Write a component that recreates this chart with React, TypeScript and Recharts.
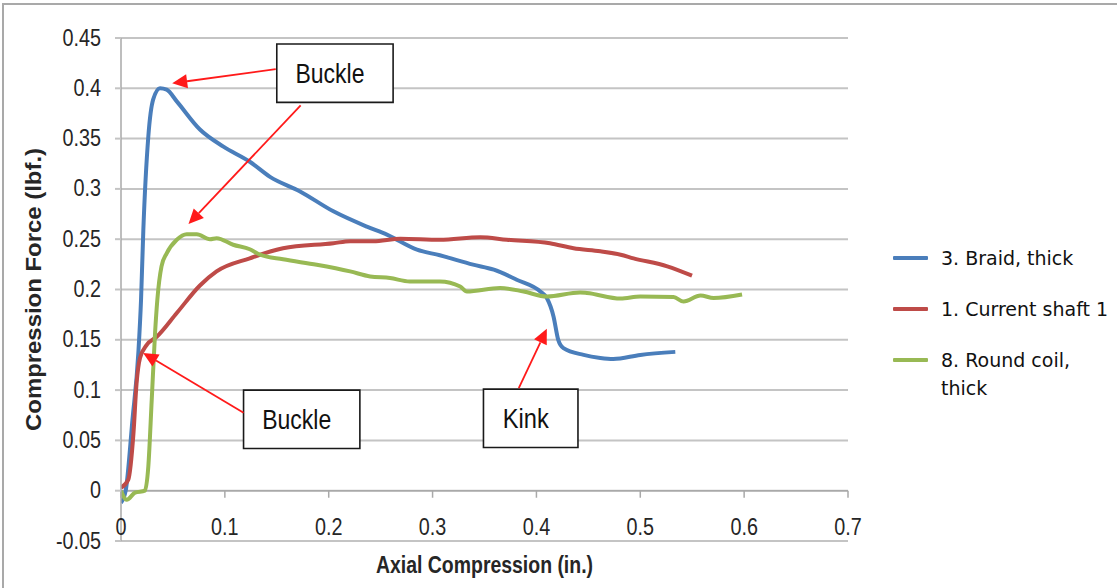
import React from 'react';
import { LineChart, Line, XAxis, YAxis, CartesianGrid, ReferenceLine, ReferenceArea } from 'recharts';

// ---------- axes ----------
const xTicks = [0, 0.1, 0.2, 0.3, 0.4, 0.5, 0.6, 0.7];
const yTicks = [-0.05, 0, 0.05, 0.1, 0.15, 0.2, 0.25, 0.3, 0.35, 0.4, 0.45];

// ---------- series: 3. Braid, thick ----------
const braidX = [0, 0.0045, 0.011, 0.0167, 0.0193, 0.0215, 0.0263, 0.031, 0.0376, 0.044, 0.0537, 0.076, 0.0986, 0.124, 0.1435, 0.1724, 0.2045, 0.2367, 0.256, 0.285, 0.307, 0.339, 0.359, 0.381, 0.4037, 0.41, 0.4165, 0.421, 0.426, 0.4454, 0.4615, 0.474, 0.5, 0.5337];
const braidY = [-0.012, 0, 0.07, 0.137, 0.19, 0.259, 0.352, 0.389, 0.4, 0.3986, 0.387, 0.359, 0.342, 0.327, 0.312, 0.2975, 0.2777, 0.2625, 0.2545, 0.2396, 0.234, 0.2247, 0.2197, 0.2097, 0.198, 0.1915, 0.173, 0.15, 0.1418, 0.135, 0.132, 0.131, 0.135, 0.138];

// ---------- series: 1. Current shaft 1 ----------
const shaftX = [0, 0.007, 0.012, 0.015, 0.0183, 0.0248, 0.0344, 0.0537, 0.076, 0.092, 0.124, 0.156, 0.2045, 0.2206, 0.243, 0.269, 0.307, 0.346, 0.3716, 0.413, 0.4357, 0.4615, 0.481, 0.4935, 0.526, 0.5498];
const shaftY = [0.003, 0.011, 0.057, 0.107, 0.132, 0.145, 0.153, 0.1766, 0.204, 0.218, 0.231, 0.241, 0.246, 0.248, 0.248, 0.2505, 0.2495, 0.252, 0.2495, 0.246, 0.241, 0.238, 0.2346, 0.231, 0.223, 0.2137];

// ---------- series: 8. Round coil, thick ----------
const coilX = [0, 0.0055, 0.0135, 0.023, 0.0263, 0.0296, 0.0328, 0.035, 0.039, 0.044, 0.0537, 0.0633, 0.073, 0.0857, 0.092, 0.108, 0.124, 0.134, 0.156, 0.1885, 0.2206, 0.2399, 0.259, 0.278, 0.307, 0.3266, 0.333, 0.365, 0.3876, 0.41, 0.442, 0.4486, 0.481, 0.5, 0.532, 0.5417, 0.558, 0.5706, 0.598];
const coilY = [0, -0.009, -0.002, 0, 0.024, 0.0905, 0.157, 0.19, 0.223, 0.236, 0.2495, 0.255, 0.255, 0.25, 0.251, 0.2445, 0.24, 0.2346, 0.23, 0.2246, 0.218, 0.213, 0.2114, 0.208, 0.208, 0.203, 0.198, 0.2015, 0.198, 0.193, 0.197, 0.1965, 0.191, 0.193, 0.1925, 0.188, 0.194, 0.1915, 0.195];

const seriesNames = ['3. Braid, thick', '1. Current shaft 1', '8. Round coil, thick'];
const seriesColors = ['#4a7ebb', '#be4b48', '#98b954'];

// ---------- annotations (data coordinates) ----------
const boxes = [
  { label: 'Buckle', x1: 0.150, x2: 0.262, y1: 0.386, y2: 0.444, textWidth: 69 },
  { label: 'Buckle', x1: 0.118, x2: 0.230, y1: 0.042, y2: 0.100, textWidth: 69 },
  { label: 'Kink', x1: 0.349, x2: 0.440, y1: 0.043, y2: 0.101, textWidth: 46 },
];
const arrows = [
  { fx: 0.149, fy: 0.419, tx: 0.0493, ty: 0.405 },
  { fx: 0.173, fy: 0.383, tx: 0.065, ty: 0.265 },
  { fx: 0.118, fy: 0.0775, tx: 0.0213, ty: 0.137 },
  { fx: 0.383, fy: 0.102, tx: 0.410, ty: 0.161 },
];

const toData = (xs: number[], ys: number[]) => xs.map((x, i) => ({ x, y: ys[i] }));
const seriesData = [toData(braidX, braidY), toData(shaftX, shaftY), toData(coilX, coilY)];

const NARROW = '"Liberation Sans Narrow", "Arial Narrow", "Liberation Sans", Arial, sans-serif';
const SANS = '"Liberation Sans", Arial, sans-serif';

const Arrow = (p: any) => {
  const { x1, y1, x2, y2 } = p;
  const dx = x2 - x1;
  const dy = y2 - y1;
  const len = Math.hypot(dx, dy) || 1;
  const ux = dx / len;
  const uy = dy / len;
  const hl = 15;
  const hw = 7;
  const bx = x2 - ux * hl;
  const by = y2 - uy * hl;
  return (
    <g>
      <line x1={x1} y1={y1} x2={bx} y2={by} stroke="#ff1a1a" strokeWidth={1.8} />
      <polygon
        points={`${x2},${y2} ${bx - uy * hw},${by + ux * hw} ${bx + uy * hw},${by - ux * hw}`}
        fill="#ff1a1a"
      />
    </g>
  );
};

const XTick = (p: any) => {
  const { x, y, payload } = p;
  return (
    <g transform={`translate(${x},${y - 6}) scale(0.86,1)`}>
      <text x={0} y={0} textAnchor="middle" fontFamily={SANS} fontSize={23} fill="#262626">
        {String(payload.value)}
      </text>
    </g>
  );
};

const YTick = (p: any) => {
  const { x, y, payload } = p;
  return (
    <g transform={`translate(${x},${y}) scale(0.86,1)`}>
      <text x={0} y={0} textAnchor="end" dominantBaseline="central" fontFamily={SANS} fontSize={23} fill="#262626">
        {String(payload.value)}
      </text>
    </g>
  );
};

const boxLabel = (text: string, w: number) => (lp: any) => {
  const vb = lp.viewBox || { x: 0, y: 0, width: 0, height: 0 };
  const cx = vb.x + vb.width / 2 - 5;
  const cy = vb.y + vb.height / 2;
  return (
    <text
      x={cx}
      y={cy}
      textAnchor="middle"
      dominantBaseline="central"
      fontFamily={SANS}
      fontSize={28}
      fill="#111"
      textLength={w}
      lengthAdjust="spacingAndGlyphs"
    >
      {text}
    </text>
  );
};

export default function App() {
  return (
    <div style={{ position: 'absolute', left: 0, top: 0, width: 1117, height: 588, overflow: 'hidden', background: '#fff' }}>
      <div
        style={{
          position: 'absolute', left: 2, top: 3, width: 1130, height: 600,
          border: '2px solid #a9a9a9', boxSizing: 'border-box',
        }}
      />
      <div style={{ position: 'absolute', left: 0, top: 0 }}>
        <LineChart width={1117} height={588} margin={{ top: 38, right: 269, bottom: 17, left: 61 }}>
          <CartesianGrid vertical={false} stroke="#c4c4c4" strokeWidth={2} />
          <XAxis
            type="number"
            dataKey="x"
            domain={[0, 0.7]}
            ticks={xTicks}
            allowDataOverflow
            axisLine={false}
            tickLine={false}
            tickSize={0}
            tickMargin={0}
            height={30}
            tick={<XTick />}
            label={{
              content: (lp: any) => {
                const vb = lp.viewBox || { x: 121, y: 541, width: 727 };
                return (
                  <text
                    x={vb.x + vb.width / 2}
                    y={vb.y + 32}
                    textAnchor="middle"
                    fontFamily={NARROW}
                    fontWeight="bold"
                    fontSize={23}
                    fill="#262626"
                    textLength={217}
                    lengthAdjust="spacingAndGlyphs"
                  >
                    Axial Compression (in.)
                  </text>
                );
              },
            }}
          />
          <YAxis
            type="number"
            domain={[-0.05, 0.45]}
            ticks={yTicks}
            allowDataOverflow
            width={60}
            axisLine={{ stroke: '#a9a9a9', strokeWidth: 1.5 }}
            tickLine={{ stroke: '#c4c4c4', strokeWidth: 2 }}
            tickSize={6}
            tickMargin={14}
            tick={<YTick />}
            label={{
              content: (lp: any) => {
                const vb = lp.viewBox || { x: 61, y: 38, height: 503 };
                const cx = vb.x - 28;
                const cy = vb.y + vb.height / 2;
                return (
                  <text
                    x={cx}
                    y={cy}
                    transform={`rotate(-90 ${cx} ${cy})`}
                    textAnchor="middle"
                    dominantBaseline="central"
                    fontFamily={SANS}
                    fontWeight="bold"
                    fontSize={22}
                    fill="#262626"
                    textLength={283}
                    lengthAdjust="spacingAndGlyphs"
                  >
                    Compression Force (lbf.)
                  </text>
                );
              },
            }}
          />
          <ReferenceLine y={0} stroke="#a9a9a9" strokeWidth={1.5} />
          {xTicks.map((t) => (
            <ReferenceLine
              key={`tk${t}`}
              segment={[{ x: t, y: 0 }, { x: t, y: -0.007 }]}
              stroke="#a9a9a9"
              strokeWidth={1.5}
              ifOverflow="visible"
            />
          ))}
          {seriesData.map((d, i) => (
            <Line
              key={seriesNames[i]}
              data={d}
              dataKey="y"
              name={seriesNames[i]}
              type="monotone"
              stroke={seriesColors[i]}
              strokeWidth={4}
              dot={false}
              activeDot={false}
              isAnimationActive={false}
            />
          ))}
          {boxes.map((b, i) => (
            <ReferenceArea
              key={`box${i}`}
              x1={b.x1}
              x2={b.x2}
              y1={b.y1}
              y2={b.y2}
              fill="#ffffff"
              fillOpacity={1}
              stroke="#1a1a1a"
              strokeWidth={1.6}
              ifOverflow="visible"
              label={{ content: boxLabel(b.label, b.textWidth) }}
            />
          ))}
          {arrows.map((a, i) => (
            <ReferenceLine
              key={`ar${i}`}
              segment={[{ x: a.fx, y: a.fy }, { x: a.tx, y: a.ty }]}
              ifOverflow="visible"
              shape={Arrow}
            />
          ))}
        </LineChart>
      </div>
      {seriesNames.map((name, i) => {
        const cy = [258, 309, 360][i];
        return (
          <React.Fragment key={name}>
            <div
              style={{
                position: 'absolute', left: 893, top: cy - 2, width: 35, height: 4,
                background: seriesColors[i], borderRadius: 1,
              }}
            />
            <div
              style={{
                position: 'absolute', left: 941, top: cy - 14, width: 176,
                fontFamily: '"DejaVu Sans", Verdana, sans-serif', fontSize: 19, lineHeight: '28px', color: '#111',
              }}
            >
              {name}
            </div>
          </React.Fragment>
        );
      })}
    </div>
  );
}
